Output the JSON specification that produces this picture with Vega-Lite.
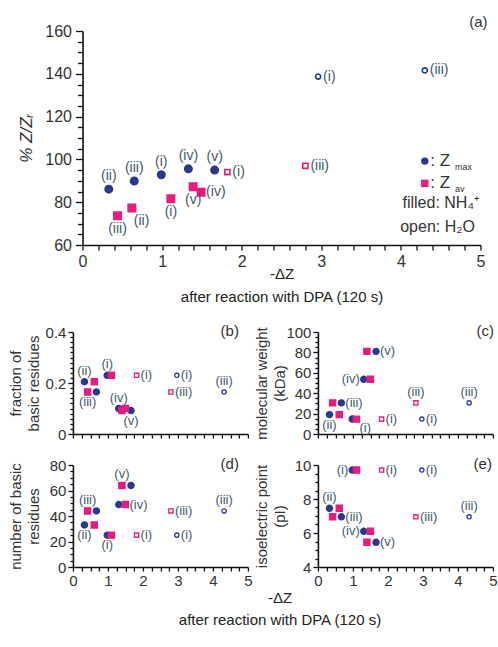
{
  "$schema": "https://vega.github.io/schema/vega-lite/v6.json",
  "padding": {"left": 8.5, "top": 15, "right": 3, "bottom": 6},
  "background": "white",
  "config": {
    "font": "Liberation Sans",
    "view": {"stroke": null},
    "axis": {"grid": false, "domainColor": "#111", "tickColor": "#111", "domainWidth": 1.6, "tickWidth": 1.3, "labelColor": "#333", "titleColor": "#333", "titleFontWeight": "normal", "labelFlush": false, "labelOverlap": false, "labelPadding": 2},
    "title": {"fontWeight": "normal", "color": "#333"}
  },
  "datasets": {
    "pts": [
      {"panel":"a","x":0.33,"y":86.1,"s":"Zmax","m":"NH4","l":"(ii)","p":"t"},
      {"panel":"a","x":0.65,"y":89.9,"s":"Zmax","m":"NH4","l":"(iii)","p":"t"},
      {"panel":"a","x":0.99,"y":92.8,"s":"Zmax","m":"NH4","l":"(i)","p":"t"},
      {"panel":"a","x":1.33,"y":95.6,"s":"Zmax","m":"NH4","l":"(iv)","p":"t"},
      {"panel":"a","x":1.66,"y":95.0,"s":"Zmax","m":"NH4","l":"(v)","p":"t"},
      {"panel":"a","x":2.96,"y":138.7,"s":"Zmax","m":"H2O","l":"(i)","p":"r"},
      {"panel":"a","x":4.30,"y":141.6,"s":"Zmax","m":"H2O","l":"(iii)","p":"r"},
      {"panel":"a","x":0.44,"y":73.7,"s":"Zav","m":"NH4","l":"(iii)","p":"b"},
      {"panel":"a","x":0.62,"y":77.3,"s":"Zav","m":"NH4","l":"(ii)","p":"br"},
      {"panel":"a","x":1.11,"y":81.6,"s":"Zav","m":"NH4","l":"(i)","p":"b"},
      {"panel":"a","x":1.39,"y":87.2,"s":"Zav","m":"NH4","l":"(v)","p":"b"},
      {"panel":"a","x":1.49,"y":84.6,"s":"Zav","m":"NH4","l":"(iv)","p":"r"},
      {"panel":"a","x":1.82,"y":94.1,"s":"Zav","m":"H2O","l":"(i)","p":"r"},
      {"panel":"a","x":2.80,"y":97.0,"s":"Zav","m":"H2O","l":"(iii)","p":"r"},

      {"panel":"b","x":0.33,"y":0.205,"s":"Zmax","m":"NH4","l":"(ii)","p":"t"},
      {"panel":"b","x":0.67,"y":0.165,"s":"Zmax","m":"NH4","l":"","p":""},
      {"panel":"b","x":0.98,"y":0.23,"s":"Zmax","m":"NH4","l":"(i)","p":"t"},
      {"panel":"b","x":1.31,"y":0.10,"s":"Zmax","m":"NH4","l":"(iv)","p":"t"},
      {"panel":"b","x":1.66,"y":0.092,"s":"Zmax","m":"NH4","l":"(v)","p":"b"},
      {"panel":"b","x":0.42,"y":0.165,"s":"Zav","m":"NH4","l":"(iii)","p":"b"},
      {"panel":"b","x":0.61,"y":0.205,"s":"Zav","m":"NH4","l":"","p":""},
      {"panel":"b","x":1.10,"y":0.23,"s":"Zav","m":"NH4","l":"","p":""},
      {"panel":"b","x":1.40,"y":0.092,"s":"Zav","m":"NH4","l":"","p":""},
      {"panel":"b","x":1.50,"y":0.10,"s":"Zav","m":"NH4","l":"","p":""},
      {"panel":"b","x":1.82,"y":0.23,"s":"Zav","m":"H2O","l":"(i)","p":"r"},
      {"panel":"b","x":2.80,"y":0.165,"s":"Zav","m":"H2O","l":"(iii)","p":"r"},
      {"panel":"b","x":2.97,"y":0.23,"s":"Zmax","m":"H2O","l":"(i)","p":"r"},
      {"panel":"b","x":4.32,"y":0.165,"s":"Zmax","m":"H2O","l":"(iii)","p":"t"},

      {"panel":"c","x":0.33,"y":19,"s":"Zmax","m":"NH4","l":"(ii)","p":"b"},
      {"panel":"c","x":0.67,"y":30.5,"s":"Zmax","m":"NH4","l":"(iii)","p":"r"},
      {"panel":"c","x":0.98,"y":14.6,"s":"Zmax","m":"NH4","l":"","p":""},
      {"panel":"c","x":1.31,"y":53.6,"s":"Zmax","m":"NH4","l":"(iv)","p":"l"},
      {"panel":"c","x":1.66,"y":81,"s":"Zmax","m":"NH4","l":"(v)","p":"r"},
      {"panel":"c","x":0.42,"y":30.5,"s":"Zav","m":"NH4","l":"","p":""},
      {"panel":"c","x":0.61,"y":19,"s":"Zav","m":"NH4","l":"","p":""},
      {"panel":"c","x":1.10,"y":14.6,"s":"Zav","m":"NH4","l":"(i)","p":"br"},
      {"panel":"c","x":1.40,"y":81,"s":"Zav","m":"NH4","l":"","p":""},
      {"panel":"c","x":1.50,"y":53.6,"s":"Zav","m":"NH4","l":"","p":""},
      {"panel":"c","x":1.82,"y":14.6,"s":"Zav","m":"H2O","l":"(i)","p":"r"},
      {"panel":"c","x":2.80,"y":30.5,"s":"Zav","m":"H2O","l":"(iii)","p":"t"},
      {"panel":"c","x":2.97,"y":14.6,"s":"Zmax","m":"H2O","l":"(i)","p":"r"},
      {"panel":"c","x":4.32,"y":30.5,"s":"Zmax","m":"H2O","l":"(iii)","p":"t"},

      {"panel":"d","x":0.33,"y":33,"s":"Zmax","m":"NH4","l":"(ii)","p":"b"},
      {"panel":"d","x":0.67,"y":44,"s":"Zmax","m":"NH4","l":"","p":""},
      {"panel":"d","x":0.98,"y":25,"s":"Zmax","m":"NH4","l":"(i)","p":"b"},
      {"panel":"d","x":1.31,"y":49,"s":"Zmax","m":"NH4","l":"","p":""},
      {"panel":"d","x":1.66,"y":64,"s":"Zmax","m":"NH4","l":"","p":""},
      {"panel":"d","x":0.42,"y":44,"s":"Zav","m":"NH4","l":"(iii)","p":"t"},
      {"panel":"d","x":0.61,"y":33,"s":"Zav","m":"NH4","l":"","p":""},
      {"panel":"d","x":1.10,"y":25,"s":"Zav","m":"NH4","l":"","p":""},
      {"panel":"d","x":1.40,"y":64,"s":"Zav","m":"NH4","l":"(v)","p":"t"},
      {"panel":"d","x":1.50,"y":49,"s":"Zav","m":"NH4","l":"(iv)","p":"r"},
      {"panel":"d","x":1.82,"y":25,"s":"Zav","m":"H2O","l":"(i)","p":"r"},
      {"panel":"d","x":2.80,"y":44,"s":"Zav","m":"H2O","l":"(iii)","p":"r"},
      {"panel":"d","x":2.97,"y":25,"s":"Zmax","m":"H2O","l":"(i)","p":"r"},
      {"panel":"d","x":4.32,"y":44,"s":"Zmax","m":"H2O","l":"(iii)","p":"t"},

      {"panel":"e","x":0.33,"y":7.45,"s":"Zmax","m":"NH4","l":"(ii)","p":"t"},
      {"panel":"e","x":0.67,"y":6.95,"s":"Zmax","m":"NH4","l":"(iii)","p":"r"},
      {"panel":"e","x":0.98,"y":9.7,"s":"Zmax","m":"NH4","l":"(i)","p":"l"},
      {"panel":"e","x":1.31,"y":6.1,"s":"Zmax","m":"NH4","l":"(iv)","p":"l"},
      {"panel":"e","x":1.66,"y":5.45,"s":"Zmax","m":"NH4","l":"(v)","p":"r"},
      {"panel":"e","x":0.42,"y":6.95,"s":"Zav","m":"NH4","l":"","p":""},
      {"panel":"e","x":0.61,"y":7.45,"s":"Zav","m":"NH4","l":"","p":""},
      {"panel":"e","x":1.10,"y":9.7,"s":"Zav","m":"NH4","l":"","p":""},
      {"panel":"e","x":1.40,"y":5.45,"s":"Zav","m":"NH4","l":"","p":""},
      {"panel":"e","x":1.50,"y":6.1,"s":"Zav","m":"NH4","l":"","p":""},
      {"panel":"e","x":1.82,"y":9.7,"s":"Zav","m":"H2O","l":"(i)","p":"r"},
      {"panel":"e","x":2.80,"y":6.95,"s":"Zav","m":"H2O","l":"(iii)","p":"r"},
      {"panel":"e","x":2.97,"y":9.7,"s":"Zmax","m":"H2O","l":"(i)","p":"r"},
      {"panel":"e","x":4.32,"y":6.95,"s":"Zmax","m":"H2O","l":"(iii)","p":"t"}
    ],
    "leg": [
      {"role":"sym","x":4.30,"y":99.2,"s":"Zmax","m":"NH4","t":""},
      {"role":"sym","x":4.30,"y":88.8,"s":"Zav","m":"NH4","t":""},
      {"role":"main","x":4.37,"y":99.4,"s":"Zmax","m":"NH4","t":":  Z"},
      {"role":"main","x":4.37,"y":89.0,"s":"Zav","m":"NH4","t":":  Z"},
      {"role":"sub","x":4.68,"y":96.6,"s":"Zmax","m":"NH4","t":"max"},
      {"role":"sub","x":4.68,"y":86.2,"s":"Zav","m":"NH4","t":"av"},
      {"role":"rt","x":4.98,"y":79.4,"s":"Zmax","m":"NH4","t":"filled: NH₄⁺"},
      {"role":"rt","x":4.93,"y":68.6,"s":"Zmax","m":"NH4","t":"open: H₂O"}
    ]
  },
  "title": {"text": ["-ΔZ", "after reaction with DPA (120 s)"], "orient": "bottom", "anchor": "middle", "fontSize": 15, "lineHeight": 22, "offset": 3, "dx": 27, "color": "#222"},
  "columns": 1,
  "align": "each",
  "center": true,
  "spacing": 20,
  "concat": [
    {
      "width": 398, "height": 214,
      "title": {"text": "(a)", "anchor": "end", "frame": "group", "offset": -7, "dx": 7, "fontSize": 15},
      "encoding": {
        "x": {"field": "x", "type": "quantitative", "scale": {"domain": [0, 5], "nice": false, "zero": false},
          "axis": {"values": [0,0.2,0.4,0.6,0.8,1,1.2,1.4,1.6,1.8,2,2.2,2.4,2.6,2.8,3,3.2,3.4,3.6,3.8,4,4.2,4.4,4.6,4.8,5],
            "labelExpr": "datum.value % 1 === 0 ? format(datum.value, '~g') : ''",
            "tickSize": 5, "labelFontSize": 16, "labelPadding": 3,
            "title": ["-ΔZ", "after reaction with DPA (120 s)"], "titleFontSize": 15, "titleLineHeight": 23, "titlePadding": -3, "titleColor": "#222"}},
        "y": {"field": "y", "type": "quantitative", "scale": {"domain": [60, 160], "nice": false, "zero": false},
          "axis": {"values": [60,65,70,75,80,85,90,95,100,105,110,115,120,125,130,135,140,145,150,155,160],
            "labelExpr": "datum.value % 20 === 0 ? format(datum.value, '~g') : ''",
            "tickSize": {"condition": {"test": "datum.value % 20 === 0", "value": 7}, "value": 5},
            "labelFontSize": 16, "labelPadding": 4, "minExtent": 38, "maxExtent": 38,
            "title": ["", "% Z/Zᵣ"], "titleFontSize": 17, "titleLineHeight": 8, "titleFontStyle": "italic", "titlePadding": 9}}
      },
      "layer": [
        {"data": {"name": "pts"}, "transform": [{"filter": "datum.panel === 'a'"}],
          "mark": {"type": "point", "filled": true, "strokeWidth": 1.6, "opacity": 1},
          "encoding": {
            "shape": {"field": "s", "type": "nominal", "scale": {"domain": ["Zmax", "Zav"], "range": ["circle", "square"]}, "legend": null},
            "stroke": {"field": "s", "type": "nominal", "scale": {"domain": ["Zmax", "Zav"], "range": ["#2a3990", "#ea1a7f"]}, "legend": null},
            "fill": {"field": "s", "type": "nominal", "scale": {"domain": ["Zmax", "Zav"], "range": ["#2a3990", "#ea1a7f"]}, "legend": null, "condition": {"test": "datum.m === 'H2O'", "value": "white"}},
            "size": {"condition": {"test": "datum.m === 'H2O'", "value": 26}, "value": 55}
          }},
        {"data": {"name": "pts"}, "transform": [{"filter": "datum.panel === 'a' && datum.p === 't'"}],
          "mark": {"type": "text", "baseline": "bottom", "dy": -6, "fontSize": 14, "color": "#3e5a6b"}, "encoding": {"text": {"field": "l"}}},
        {"data": {"name": "pts"}, "transform": [{"filter": "datum.panel === 'a' && datum.p === 'b'"}],
          "mark": {"type": "text", "baseline": "top", "dy": 6, "fontSize": 14, "color": "#3e5a6b"}, "encoding": {"text": {"field": "l"}}},
        {"data": {"name": "pts"}, "transform": [{"filter": "datum.panel === 'a' && datum.p === 'r'"}],
          "mark": {"type": "text", "align": "left", "baseline": "middle", "dx": 5, "fontSize": 14, "color": "#3e5a6b"}, "encoding": {"text": {"field": "l"}}},
        {"data": {"name": "pts"}, "transform": [{"filter": "datum.panel === 'a' && datum.p === 'br'"}],
          "mark": {"type": "text", "align": "left", "baseline": "top", "dx": 2, "dy": 6, "fontSize": 14, "color": "#3e5a6b"}, "encoding": {"text": {"field": "l"}}},
        {"data": {"name": "leg"}, "transform": [{"filter": "datum.role === 'sym'"}],
          "mark": {"type": "point", "filled": true, "size": 55, "opacity": 1},
          "encoding": {
            "shape": {"field": "s", "type": "nominal", "scale": {"domain": ["Zmax", "Zav"], "range": ["circle", "square"]}, "legend": null},
            "fill": {"field": "s", "type": "nominal", "scale": {"domain": ["Zmax", "Zav"], "range": ["#2a3990", "#ea1a7f"]}, "legend": null}
          }},
        {"data": {"name": "leg"}, "transform": [{"filter": "datum.role === 'main'"}],
          "mark": {"type": "text", "align": "left", "baseline": "middle", "fontSize": 17, "color": "#333"}, "encoding": {"text": {"field": "t"}}},
        {"data": {"name": "leg"}, "transform": [{"filter": "datum.role === 'sub'"}],
          "mark": {"type": "text", "align": "left", "baseline": "middle", "fontSize": 9, "color": "#333"}, "encoding": {"text": {"field": "t"}}},
        {"data": {"name": "leg"}, "transform": [{"filter": "datum.role === 'rt'"}],
          "mark": {"type": "text", "align": "right", "baseline": "middle", "fontSize": 16, "color": "#333"}, "encoding": {"text": {"field": "t"}}}
      ]
    },
    {
      "spacing": 2,
      "hconcat": [
        {
          "spacing": 15,
          "vconcat": [
            {
              "width": 175, "height": 102,
              "title": {"text": "(b)", "anchor": "end", "frame": "group", "offset": -14, "dx": -9, "fontSize": 15},
              "encoding": {
                "x": {"field": "x", "type": "quantitative", "scale": {"domain": [0, 5], "nice": false, "zero": false},
                  "axis": {"values": [0,0.25,0.5,0.75,1,1.25,1.5,1.75,2,2.25,2.5,2.75,3,3.25,3.5,3.75,4,4.25,4.5,4.75,5], "labels": false, "tickSize": 4, "title": null}},
                "y": {"field": "y", "type": "quantitative", "scale": {"domain": [0, 0.4], "nice": false, "zero": false},
                  "axis": {"values": [0,0.02,0.04,0.06,0.08,0.1,0.12,0.14,0.16,0.18,0.2,0.22,0.24,0.26,0.28,0.3,0.32,0.34,0.36,0.38,0.4],
                    "labelExpr": "abs(datum.value * 5 - round(datum.value * 5)) < 0.000001 ? format(datum.value, '~g') : ''",
                    "tickSize": {"condition": {"test": "abs(datum.value * 5 - round(datum.value * 5)) < 0.000001", "value": 5}, "value": 3},
                    "labelFontSize": 15, "title": ["fraction of", "basic residues"], "titleFontSize": 15, "titleLineHeight": 18, "titlePadding": 1, "minExtent": 30, "maxExtent": 30}}
              },
              "layer": [
                {"data": {"name": "pts"}, "transform": [{"filter": "datum.panel === 'b'"}],
                  "mark": {"type": "point", "filled": true, "strokeWidth": 1.3, "opacity": 1},
                  "encoding": {
                    "shape": {"field": "s", "type": "nominal", "scale": {"domain": ["Zmax", "Zav"], "range": ["circle", "square"]}, "legend": null},
                    "stroke": {"field": "s", "type": "nominal", "scale": {"domain": ["Zmax", "Zav"], "range": ["#2a3990", "#ea1a7f"]}, "legend": null},
                    "fill": {"field": "s", "type": "nominal", "scale": {"domain": ["Zmax", "Zav"], "range": ["#2a3990", "#ea1a7f"]}, "legend": null, "condition": {"test": "datum.m === 'H2O'", "value": "white"}},
                    "size": {"condition": {"test": "datum.m === 'H2O'", "value": 18}, "value": 38}
                  }},
                {"data": {"name": "pts"}, "transform": [{"filter": "datum.panel === 'b' && datum.p === 't'"}],
                  "mark": {"type": "text", "baseline": "bottom", "dy": -4, "fontSize": 13, "color": "#3e5a6b"}, "encoding": {"text": {"field": "l"}}},
                {"data": {"name": "pts"}, "transform": [{"filter": "datum.panel === 'b' && datum.p === 'b'"}],
                  "mark": {"type": "text", "baseline": "top", "dy": 4, "fontSize": 13, "color": "#3e5a6b"}, "encoding": {"text": {"field": "l"}}},
                {"data": {"name": "pts"}, "transform": [{"filter": "datum.panel === 'b' && datum.p === 'r'"}],
                  "mark": {"type": "text", "align": "left", "baseline": "middle", "dx": 4, "fontSize": 13, "color": "#3e5a6b"}, "encoding": {"text": {"field": "l"}}}
              ]
            },
            {
              "width": 175, "height": 102,
              "title": {"text": "(d)", "anchor": "end", "frame": "group", "offset": -14, "dx": -9, "fontSize": 15},
              "encoding": {
                "x": {"field": "x", "type": "quantitative", "scale": {"domain": [0, 5], "nice": false, "zero": false},
                  "axis": {"values": [0,0.25,0.5,0.75,1,1.25,1.5,1.75,2,2.25,2.5,2.75,3,3.25,3.5,3.75,4,4.25,4.5,4.75,5],
                    "labelExpr": "datum.value % 1 === 0 ? format(datum.value, '~g') : ''",
                    "tickSize": 4, "labelFontSize": 15, "title": null}},
                "y": {"field": "y", "type": "quantitative", "scale": {"domain": [0, 80], "nice": false, "zero": false},
                  "axis": {"values": [0,5,10,15,20,25,30,35,40,45,50,55,60,65,70,75,80],
                    "labelExpr": "datum.value % 20 === 0 ? format(datum.value, '~g') : ''",
                    "tickSize": {"condition": {"test": "datum.value % 20 === 0", "value": 5}, "value": 3},
                    "labelFontSize": 15, "title": ["number of basic", "residues"], "titleFontSize": 15, "titleLineHeight": 18, "titlePadding": 1, "minExtent": 30, "maxExtent": 30}}
              },
              "layer": [
                {"data": {"name": "pts"}, "transform": [{"filter": "datum.panel === 'd'"}],
                  "mark": {"type": "point", "filled": true, "strokeWidth": 1.3, "opacity": 1},
                  "encoding": {
                    "shape": {"field": "s", "type": "nominal", "scale": {"domain": ["Zmax", "Zav"], "range": ["circle", "square"]}, "legend": null},
                    "stroke": {"field": "s", "type": "nominal", "scale": {"domain": ["Zmax", "Zav"], "range": ["#2a3990", "#ea1a7f"]}, "legend": null},
                    "fill": {"field": "s", "type": "nominal", "scale": {"domain": ["Zmax", "Zav"], "range": ["#2a3990", "#ea1a7f"]}, "legend": null, "condition": {"test": "datum.m === 'H2O'", "value": "white"}},
                    "size": {"condition": {"test": "datum.m === 'H2O'", "value": 18}, "value": 38}
                  }},
                {"data": {"name": "pts"}, "transform": [{"filter": "datum.panel === 'd' && datum.p === 't'"}],
                  "mark": {"type": "text", "baseline": "bottom", "dy": -4, "fontSize": 13, "color": "#3e5a6b"}, "encoding": {"text": {"field": "l"}}},
                {"data": {"name": "pts"}, "transform": [{"filter": "datum.panel === 'd' && datum.p === 'b'"}],
                  "mark": {"type": "text", "baseline": "top", "dy": 4, "fontSize": 13, "color": "#3e5a6b"}, "encoding": {"text": {"field": "l"}}},
                {"data": {"name": "pts"}, "transform": [{"filter": "datum.panel === 'd' && datum.p === 'r'"}],
                  "mark": {"type": "text", "align": "left", "baseline": "middle", "dx": 4, "fontSize": 13, "color": "#3e5a6b"}, "encoding": {"text": {"field": "l"}}}
              ]
            }
          ]
        },
        {
          "spacing": 15,
          "vconcat": [
            {
              "width": 175, "height": 102,
              "title": {"text": "(c)", "anchor": "end", "frame": "group", "offset": -14, "dx": 1, "fontSize": 15},
              "encoding": {
                "x": {"field": "x", "type": "quantitative", "scale": {"domain": [0, 5], "nice": false, "zero": false},
                  "axis": {"values": [0,0.25,0.5,0.75,1,1.25,1.5,1.75,2,2.25,2.5,2.75,3,3.25,3.5,3.75,4,4.25,4.5,4.75,5], "labels": false, "tickSize": 4, "title": null}},
                "y": {"field": "y", "type": "quantitative", "scale": {"domain": [0, 100], "nice": false, "zero": false},
                  "axis": {"values": [0,5,10,15,20,25,30,35,40,45,50,55,60,65,70,75,80,85,90,95,100],
                    "labelExpr": "datum.value % 20 === 0 ? format(datum.value, '~g') : ''",
                    "tickSize": {"condition": {"test": "datum.value % 20 === 0", "value": 5}, "value": 3},
                    "labelFontSize": 15, "title": ["molecular weight", "(kDa)"], "titleFontSize": 15, "titleLineHeight": 18, "titlePadding": 1, "minExtent": 29, "maxExtent": 29}}
              },
              "layer": [
                {"data": {"name": "pts"}, "transform": [{"filter": "datum.panel === 'c'"}],
                  "mark": {"type": "point", "filled": true, "strokeWidth": 1.3, "opacity": 1},
                  "encoding": {
                    "shape": {"field": "s", "type": "nominal", "scale": {"domain": ["Zmax", "Zav"], "range": ["circle", "square"]}, "legend": null},
                    "stroke": {"field": "s", "type": "nominal", "scale": {"domain": ["Zmax", "Zav"], "range": ["#2a3990", "#ea1a7f"]}, "legend": null},
                    "fill": {"field": "s", "type": "nominal", "scale": {"domain": ["Zmax", "Zav"], "range": ["#2a3990", "#ea1a7f"]}, "legend": null, "condition": {"test": "datum.m === 'H2O'", "value": "white"}},
                    "size": {"condition": {"test": "datum.m === 'H2O'", "value": 18}, "value": 38}
                  }},
                {"data": {"name": "pts"}, "transform": [{"filter": "datum.panel === 'c' && datum.p === 't'"}],
                  "mark": {"type": "text", "baseline": "bottom", "dy": -4, "fontSize": 13, "color": "#3e5a6b"}, "encoding": {"text": {"field": "l"}}},
                {"data": {"name": "pts"}, "transform": [{"filter": "datum.panel === 'c' && datum.p === 'b'"}],
                  "mark": {"type": "text", "baseline": "top", "dy": 4, "fontSize": 13, "color": "#3e5a6b"}, "encoding": {"text": {"field": "l"}}},
                {"data": {"name": "pts"}, "transform": [{"filter": "datum.panel === 'c' && datum.p === 'r'"}],
                  "mark": {"type": "text", "align": "left", "baseline": "middle", "dx": 4, "fontSize": 13, "color": "#3e5a6b"}, "encoding": {"text": {"field": "l"}}},
                {"data": {"name": "pts"}, "transform": [{"filter": "datum.panel === 'c' && datum.p === 'l'"}],
                  "mark": {"type": "text", "align": "right", "baseline": "middle", "dx": -4, "fontSize": 13, "color": "#3e5a6b"}, "encoding": {"text": {"field": "l"}}},
                {"data": {"name": "pts"}, "transform": [{"filter": "datum.panel === 'c' && datum.p === 'br'"}],
                  "mark": {"type": "text", "align": "left", "baseline": "top", "dx": 3, "dy": 3, "fontSize": 13, "color": "#3e5a6b"}, "encoding": {"text": {"field": "l"}}}
              ]
            },
            {
              "width": 175, "height": 102,
              "title": {"text": "(e)", "anchor": "end", "frame": "group", "offset": -14, "dx": -1, "fontSize": 15},
              "encoding": {
                "x": {"field": "x", "type": "quantitative", "scale": {"domain": [0, 5], "nice": false, "zero": false},
                  "axis": {"values": [0,0.25,0.5,0.75,1,1.25,1.5,1.75,2,2.25,2.5,2.75,3,3.25,3.5,3.75,4,4.25,4.5,4.75,5],
                    "labelExpr": "datum.value % 1 === 0 ? format(datum.value, '~g') : ''",
                    "tickSize": 4, "labelFontSize": 15, "title": null}},
                "y": {"field": "y", "type": "quantitative", "scale": {"domain": [4, 10], "nice": false, "zero": false},
                  "axis": {"values": [4,4.5,5,5.5,6,6.5,7,7.5,8,8.5,9,9.5,10],
                    "labelExpr": "datum.value % 2 === 0 ? format(datum.value, '~g') : ''",
                    "tickSize": {"condition": {"test": "datum.value % 2 === 0", "value": 5}, "value": 3},
                    "labelFontSize": 15, "title": ["isoelectric point", "(pI)"], "titleFontSize": 15, "titleLineHeight": 18, "titlePadding": 1, "minExtent": 29, "maxExtent": 29}}
              },
              "layer": [
                {"data": {"name": "pts"}, "transform": [{"filter": "datum.panel === 'e'"}],
                  "mark": {"type": "point", "filled": true, "strokeWidth": 1.3, "opacity": 1},
                  "encoding": {
                    "shape": {"field": "s", "type": "nominal", "scale": {"domain": ["Zmax", "Zav"], "range": ["circle", "square"]}, "legend": null},
                    "stroke": {"field": "s", "type": "nominal", "scale": {"domain": ["Zmax", "Zav"], "range": ["#2a3990", "#ea1a7f"]}, "legend": null},
                    "fill": {"field": "s", "type": "nominal", "scale": {"domain": ["Zmax", "Zav"], "range": ["#2a3990", "#ea1a7f"]}, "legend": null, "condition": {"test": "datum.m === 'H2O'", "value": "white"}},
                    "size": {"condition": {"test": "datum.m === 'H2O'", "value": 18}, "value": 38}
                  }},
                {"data": {"name": "pts"}, "transform": [{"filter": "datum.panel === 'e' && datum.p === 't'"}],
                  "mark": {"type": "text", "baseline": "bottom", "dy": -4, "fontSize": 13, "color": "#3e5a6b"}, "encoding": {"text": {"field": "l"}}},
                {"data": {"name": "pts"}, "transform": [{"filter": "datum.panel === 'e' && datum.p === 'r'"}],
                  "mark": {"type": "text", "align": "left", "baseline": "middle", "dx": 4, "fontSize": 13, "color": "#3e5a6b"}, "encoding": {"text": {"field": "l"}}},
                {"data": {"name": "pts"}, "transform": [{"filter": "datum.panel === 'e' && datum.p === 'l'"}],
                  "mark": {"type": "text", "align": "right", "baseline": "middle", "dx": -4, "fontSize": 13, "color": "#3e5a6b"}, "encoding": {"text": {"field": "l"}}}
              ]
            }
          ]
        }
      ]
    }
  ]
}
